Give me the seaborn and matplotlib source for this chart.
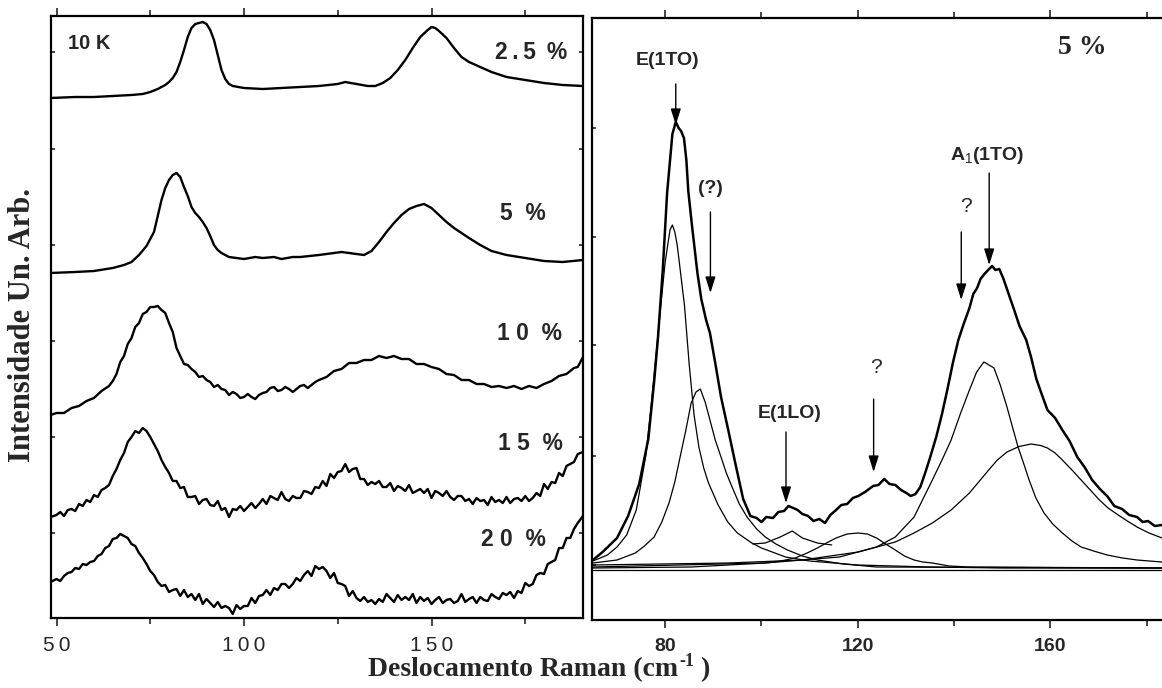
import matplotlib
matplotlib.use("Agg")
import matplotlib.pyplot as plt
import seaborn as sns
from matplotlib.ticker import FixedLocator

sns.set_style("ticks")
plt.rcParams['font.family'] = ['Liberation Sans', 'DejaVu Sans']
plt.rcParams['mathtext.fontset'] = 'custom'
plt.rcParams['mathtext.sf'] = 'Liberation Sans'
plt.rcParams['mathtext.rm'] = 'Liberation Sans'

# ---------------- left panel: spectra at 10 K (offset, arb. units) ----------------
wn_25 = [48.4, 55, 60, 65, 70, 73, 75, 77, 79, 80, 81, 82, 83, 84, 85, 86, 87, 88, 89, 90,
         91, 92, 93, 94, 95, 96, 97, 100, 105, 110, 115, 120, 125, 127, 130, 133, 135, 137, 139,
         141, 143, 145, 147, 149, 150, 151, 152, 154, 156, 158, 160, 163, 166, 170, 175, 180,
         185, 190.4]
int_25 = [52.0, 52.1, 52.1, 52.2, 52.3, 52.4, 52.6, 52.9, 53.3, 53.6, 54.0, 54.6, 55.6, 56.8,
          58.1, 59.0, 59.4, 59.5, 59.6, 59.4, 58.8, 57.8, 56.3, 54.8, 53.9, 53.4, 53.2, 53.0,
          52.9, 53.0, 53.1, 53.2, 53.4, 53.6, 53.4, 53.2, 53.2, 53.5, 54.0, 54.8, 55.8, 57.0,
          58.1, 58.8, 59.1, 59.0, 58.7, 58.0, 57.0, 56.1, 55.6, 55.1, 54.6, 54.1, 53.8, 53.5,
          53.3, 53.2]

wn_5 = [48.4, 55, 60, 65, 68, 70, 72, 74, 76, 78, 79, 80, 81, 82, 83, 84, 85, 86, 87, 88, 89,
        90, 91, 92, 93, 94, 96, 98, 100, 103, 105, 108, 110, 113, 115, 120, 124, 126, 128, 130,
        132, 134, 136, 138, 140, 142, 144, 146, 147, 148, 149, 150, 152, 154, 156, 158, 160,
        163, 166, 170, 175, 180, 185, 190.4]
int_5 = [34.5, 34.6, 34.7, 35.0, 35.3, 35.6, 36.3, 37.2, 38.6, 41.8, 43.0, 43.8, 44.3, 44.5,
         44.1, 43.1, 42.2, 41.1, 40.5, 40.1, 39.6, 39.0, 38.2, 37.3, 36.8, 36.5, 36.1, 36.0,
         35.9, 36.1, 36.0, 36.1, 35.9, 36.1, 36.1, 36.3, 36.5, 36.6, 36.5, 36.4, 36.3, 36.7,
         37.6, 38.6, 39.5, 40.3, 40.9, 41.2, 41.3, 41.4, 41.2, 41.0, 40.3, 39.6, 39.0, 38.5,
         38.0, 37.3, 36.7, 36.3, 36.0, 35.7, 35.6, 35.8]

wn_10 = [48.4, 50, 52, 54, 56, 58, 60, 62, 64, 65, 66, 67, 68, 69, 70, 71, 72, 73, 74, 75, 76,
         77, 78, 79, 80, 81, 82, 83, 84, 85, 86, 87, 88, 89, 90, 91, 92, 93, 94, 95, 96, 97, 98,
         99, 100, 101, 102, 103, 104, 105, 106, 107, 108, 109, 110, 111, 112, 113, 114, 115,
         116, 117, 118, 119, 120, 122, 124, 126, 128, 130, 132, 134, 136, 138, 140, 142, 144,
         146, 148, 150, 152, 154, 156, 158, 160, 162, 164, 166, 168, 170, 172, 174, 176, 178,
         180, 182, 184, 186, 188, 189, 190.4]
int_10 = [20.3, 20.5, 20.5, 21.0, 21.2, 21.7, 22.0, 22.7, 23.2, 23.7, 24.4, 25.6, 26.2, 27.4,
          28.0, 29.1, 29.5, 30.4, 30.6, 31.1, 31.1, 31.2, 30.8, 30.5, 29.5, 28.6, 27.0, 26.2,
          25.4, 25.3, 24.9, 24.6, 24.1, 24.2, 23.8, 23.6, 23.1, 23.3, 22.9, 22.8, 22.3, 22.6,
          22.4, 22.0, 22.1, 22.4, 22.1, 21.9, 22.3, 22.5, 22.6, 23.0, 23.1, 22.7, 22.8, 23.1,
          22.9, 22.6, 22.9, 23.2, 23.3, 23.0, 23.3, 23.6, 23.8, 24.1, 24.7, 24.9, 25.5, 25.5,
          25.8, 25.8, 26.2, 26.0, 26.2, 25.9, 25.9, 25.4, 25.4, 25.1, 24.9, 24.4, 24.3, 23.8,
          23.8, 23.4, 23.4, 23.1, 23.2, 23.0, 23.2, 22.9, 23.2, 23.0, 23.4, 23.7, 24.2, 24.4,
          25.0, 25.1, 26.1]

wn_15 = [48.4, 50, 51, 52, 53, 54, 55, 56, 57, 58, 59, 60, 61, 62, 63, 64, 65, 66, 67, 68, 69,
         70, 71, 72, 73, 74, 75, 76, 77, 78, 79, 80, 81, 82, 83, 84, 85, 86, 87, 88, 89, 90,
         91, 92, 93, 94, 95, 96, 97, 98, 99, 100, 101, 102, 103, 104, 105, 106, 107, 108, 109,
         110, 111, 112, 113, 114, 115, 116, 117, 118, 119, 120, 121, 122, 123, 124, 125, 126,
         127, 128, 129, 130, 131, 132, 133, 134, 135, 136, 137, 138, 139, 140, 141, 142, 143,
         144, 145, 146, 147, 148, 149, 150, 151, 152, 153, 154, 155, 156, 157, 158, 159, 160,
         161, 162, 163, 164, 165, 166, 167, 168, 169, 170, 171, 172, 173, 174, 175, 176, 177,
         178, 179, 180, 181, 182, 183, 184, 185, 186, 187, 188, 189, 190.4]
int_15 = [10.1, 10.3, 10.6, 10.2, 10.8, 10.9, 10.7, 11.4, 11.2, 11.8, 11.6, 12.3, 12.1, 12.8,
          13.0, 13.3, 14.2, 14.9, 15.8, 16.5, 17.6, 18.1, 18.7, 18.5, 19.0, 18.7, 18.1, 17.4,
          16.7, 15.8, 15.1, 14.5, 13.7, 13.7, 13.0, 13.1, 12.1, 12.1, 12.2, 11.4, 11.8, 11.9,
          11.3, 11.2, 11.7, 10.8, 11.0, 10.1, 10.9, 10.8, 11.2, 10.7, 11.1, 11.5, 11.0, 11.4,
          11.9, 11.4, 12.2, 12.0, 11.8, 12.6, 11.9, 11.7, 12.2, 12.0, 12.0, 12.7, 12.6, 12.4,
          13.1, 13.0, 13.7, 13.2, 14.4, 14.0, 14.6, 14.7, 15.4, 14.6, 14.9, 15.0, 13.9, 13.9,
          13.3, 13.6, 13.4, 13.7, 13.1, 13.1, 13.5, 12.7, 13.2, 13.0, 12.7, 13.3, 12.5, 12.7,
          12.9, 12.5, 12.9, 12.0, 12.7, 12.5, 12.2, 12.7, 12.1, 11.8, 12.2, 12.2, 11.7, 11.9,
          11.4, 12.0, 11.7, 11.8, 11.3, 12.1, 11.6, 11.8, 11.5, 12.1, 11.5, 11.9, 12.0, 11.7,
          12.2, 11.7, 12.0, 12.5, 12.2, 13.4, 12.9, 13.6, 13.5, 14.5, 14.2, 15.2, 15.4, 15.6,
          16.4, 16.6]

wn_20 = [48.4, 50, 51, 52, 53, 54, 55, 56, 57, 58, 59, 60, 61, 62, 63, 64, 65, 66, 67, 68, 69,
         70, 71, 72, 73, 74, 75, 76, 77, 78, 79, 80, 81, 82, 83, 84, 85, 86, 87, 88, 89, 90,
         91, 92, 93, 94, 95, 96, 97, 98, 99, 100, 101, 102, 103, 104, 105, 106, 107, 108, 109,
         110, 111, 112, 113, 114, 115, 116, 117, 118, 119, 120, 121, 122, 123, 124, 125, 126,
         127, 128, 129, 130, 131, 132, 133, 134, 135, 136, 137, 138, 139, 140, 141, 142, 143,
         144, 145, 146, 147, 148, 149, 150, 151, 152, 153, 154, 155, 156, 157, 158, 159, 160,
         161, 162, 163, 164, 165, 166, 167, 168, 169, 170, 171, 172, 173, 174, 175, 176, 177,
         178, 179, 180, 181, 182, 183, 184, 185, 186, 187, 188, 189, 190.4]
int_20 = [3.6, 3.9, 3.7, 4.2, 4.5, 4.6, 5.0, 4.9, 5.4, 5.3, 5.6, 5.7, 6.2, 6.4, 7.0, 7.2, 7.9,
          8.0, 8.4, 8.2, 8.0, 7.4, 7.2, 6.5, 6.0, 5.4, 4.7, 4.3, 3.6, 3.2, 3.3, 2.6, 2.8, 2.9,
          2.2, 2.8, 2.1, 2.4, 1.8, 2.4, 1.4, 1.9, 1.5, 1.1, 1.6, 1.0, 1.2, 1.0, 0.4, 1.3, 0.9,
          1.2, 1.2, 2.0, 1.5, 2.2, 2.3, 2.8, 2.3, 3.0, 2.8, 3.4, 3.4, 3.0, 3.4, 4.0, 3.7, 4.3,
          4.7, 4.2, 5.2, 4.9, 5.1, 4.7, 4.0, 4.5, 3.5, 3.4, 3.2, 2.2, 2.7, 2.0, 1.7, 2.1, 1.6,
          1.8, 1.4, 1.9, 1.6, 2.4, 2.0, 1.6, 2.3, 1.8, 2.1, 1.8, 2.4, 1.5, 2.1, 1.7, 2.0, 1.4,
          1.8, 2.1, 1.5, 1.8, 1.9, 1.5, 1.7, 2.4, 1.6, 1.9, 2.1, 1.5, 2.1, 1.8, 1.7, 2.4, 2.1,
          1.9, 2.5, 2.3, 2.6, 2.0, 2.7, 2.5, 3.5, 3.2, 3.4, 4.3, 4.5, 4.4, 5.4, 5.6, 5.8, 7.0,
          7.0, 8.0, 8.0, 8.9, 9.5, 10.2]

left_series = [(wn_25, int_25), (wn_5, int_5), (wn_10, int_10), (wn_15, int_15), (wn_20, int_20)]
left_labels = ["2\u2009.\u20095 \u2009%", "5  %", "1 0  %", "1 5  %", "2 0  %"]
left_label_pos = [(186.3, 56.6, 'right'), (174.5, 40.5, 'center'), (176.2, 28.5, 'center'),
                  (176.3, 17.5, 'center'), (171.9, 7.9, 'center')]

# ---------------- right panel: 5 % spectrum and fitted components ----------------
wn_tot = [65, 67, 70, 72.3, 74.6, 76.5, 77.7, 78.5, 79.5, 80.4, 81.5, 82.2, 82.8, 83.3, 83.9,
          84.4, 84.8, 85.6, 86.7, 87.5, 88.5, 89.3, 90.4, 91.6, 93.1, 94.6, 96.2, 97, 97.7, 99,
          100, 101, 102.4, 103.5, 104.7, 105.6, 106.6, 107.5, 108.5, 109.7, 110.8, 112, 113.2,
          114.3, 115.5, 116.6, 117.8, 119, 120.1, 121.5, 123.2, 124.3, 125.5, 126.6, 127.8, 129,
          130.1, 131, 132, 133, 134, 135, 136.3, 137.5, 138.6, 139.8, 140.9, 142, 143.2, 144,
          144.8, 145.5, 146.3, 147.1, 147.9, 148.6, 149.4, 150.2, 151, 151.7, 152.5, 153.6, 155,
          156, 157.1, 158.2, 159.4, 161, 162.5, 164, 165.6, 167.1, 168.7, 170.3, 171.8, 173.3,
          174.9, 176.4, 178, 179.2, 180.3, 181.7, 183.2]
int_tot = [6.0, 6.8, 8.2, 10.4, 13.6, 18.1, 23.8, 28.2, 35.0, 42.7, 48.6, 49.8, 49.2, 48.9,
           48.2, 46.0, 42.9, 39.3, 34.7, 32.1, 30.0, 28.7, 25.7, 22.3, 19.0, 15.6, 12.1, 11.2,
           10.4, 10.2, 9.8, 10.3, 10.2, 10.8, 10.9, 11.4, 11.2, 11.0, 10.6, 10.4, 9.9, 10.1, 9.7,
           10.5, 11.0, 11.5, 11.6, 12.2, 12.4, 12.8, 13.4, 13.5, 14.1, 13.6, 13.5, 13.0, 12.7,
           12.4, 12.6, 13.3, 14.7, 16.2, 18.3, 20.6, 23.0, 25.8, 28.0, 29.6, 31.2, 32.6, 33.2,
           34.1, 34.6, 35.0, 35.4, 35.0, 35.1, 34.2, 33.1, 32.1, 31.0, 29.4, 28.0, 26.3, 24.1,
           22.6, 21.0, 20.2, 19.0, 17.9, 16.3, 15.3, 14.0, 13.1, 12.4, 11.4, 11.1, 10.5, 10.3,
           9.8, 9.9, 9.4, 9.5]

wn_c1 = [65, 68, 70, 72, 74, 76, 77, 78, 79, 80, 81, 81.5, 82, 82.5, 83, 84, 85, 86, 87, 88,
         89, 91, 93, 95, 98, 100, 105, 110, 120, 135, 150, 183.2]
int_c1 = [5.9, 6.5, 7.3, 8.5, 11.0, 16.5, 21.0, 26.0, 31.0, 35.8, 39.0, 39.5, 38.8, 37.5, 35.5,
          31.5, 25.5, 20.5, 17.3, 15.2, 13.7, 11.5, 9.8, 8.7, 7.7, 7.2, 6.3, 5.9, 5.5, 5.3, 5.2,
          5.2]

wn_c2 = [65, 70, 73.8, 75.7, 77.7, 79.3, 80.8, 82, 83.1, 84.3, 85.4, 86.4, 87.3, 88.3, 89.3,
         90.4, 91.6, 92.7, 93.9, 95.4, 97, 99, 100.8, 103, 105.4, 108.5, 111.6, 117, 123.9,
         183.2]
int_c2 = [5.7, 6.0, 6.7, 7.4, 8.3, 9.8, 11.7, 13.8, 16.3, 19.0, 21.7, 22.8, 23.1, 21.8, 20.0,
          18.0, 16.3, 14.7, 13.3, 11.6, 10.3, 9.1, 8.3, 7.6, 7.0, 6.4, 6.0, 5.6, 5.3, 5.2]

wn_c3 = [98.2, 100.8, 103.9, 106.4, 108.5, 111.6, 114.6]
int_c3 = [7.6, 7.7, 8.3, 8.9, 8.2, 7.7, 7.5]

wn_c4 = [65, 85.4, 100.8, 104, 107, 109.5, 111.6, 113.5, 115.5, 117.8, 120, 122, 123.9, 125.8,
         127.8, 129.7, 131.7, 133.5, 135.5, 139, 143.2, 183.2]
int_c4 = [5.2, 5.3, 5.7, 5.9, 6.2, 6.7, 7.2, 7.7, 8.2, 8.6, 8.7, 8.6, 8.2, 7.6, 7.0, 6.4, 6.0,
          5.8, 5.7, 5.4, 5.3, 5.2]

wn_c5 = [65, 100.8, 116.2, 123.9, 127.8, 131.7, 135.5, 137.5, 139.4, 141.3, 143.2, 144.7, 146.2,
         148.3, 149.6, 151, 152.2, 153.3, 154.5, 155.6, 157, 158.7, 160.5, 162.5, 164.5, 166.4,
         169, 171.8, 175, 178, 183.2]
int_c5 = [5.3, 5.7, 6.3, 7.3, 8.3, 10.3, 14.0, 16.0, 18.0, 20.6, 23.0, 24.8, 25.8, 25.2, 23.5,
          21.3, 19.2, 17.3, 15.6, 14.0, 12.2, 10.7, 9.6, 8.7, 7.9, 7.3, 6.9, 6.5, 6.2, 6.0, 5.8]

wn_c6 = [65, 93.1, 108.5, 120.1, 127.8, 131.7, 135.5, 139.4, 143.2, 147.2, 149, 151, 153.5, 156,
         158, 159.4, 161, 162.5, 164.5, 166.4, 168.3, 170.2, 172, 174.1, 176, 178, 180.5, 183.2]
int_c6 = [5.5, 5.7, 6.0, 6.8, 7.8, 8.7, 9.7, 11.0, 12.7, 15.0, 16.0, 16.8, 17.35, 17.6, 17.45,
          17.2, 16.7, 16.0, 15.0, 14.0, 13.0, 12.0, 11.2, 10.5, 9.9, 9.3, 8.7, 8.2]

wn_base = [65, 183.2]
int_base = [5.0, 5.0]

components = [(wn_c1, int_c1), (wn_c2, int_c2), (wn_c3, int_c3), (wn_c4, int_c4),
              (wn_c5, int_c5), (wn_c6, int_c6), (wn_base, int_base)]

# annotations: text, text position, arrow x, arrow top, arrow tip, bold
peak_labels = ["E(1TO)", "(?)", "A$_{\\mathsf{1}}$(1TO)", "?", "E(1LO)", "?"]
peak_text_xy = [(80.5, 56.0), (89.3, 43.2), (146.8, 46.5), (142.4, 41.4), (105.9, 20.7), (123.7, 25.3)]
arrow_x = [82.2, 89.4, 147.3, 141.5, 105.1, 123.3]
arrow_top = [53.6, 40.8, 44.7, 38.8, 18.8, 22.1]
arrow_tip = [49.5, 32.7, 35.5, 32.0, 11.7, 14.8]
label_bold = [True, True, True, False, True, False]

W, H = 1162, 688
fig = plt.figure(figsize=(W / 100, H / 100), dpi=100)
axL = fig.add_axes([50.5 / W, 1 - 618 / H, (583 - 50.5) / W, (618 - 16) / H])
axR = fig.add_axes([592 / W, 1 - 620 / H, (W - 592) / W, (620 - 18) / H])

# left panel
for wn, inten in left_series:
    sns.lineplot(x=wn, y=inten, ax=axL, color='black', lw=1.7, estimator=None, sort=False)
for lab, (x, y, ha) in zip(left_labels, left_label_pos):
    axL.text(x, y, lab, ha=ha, va='center', fontsize=16.5, fontweight='bold')
axL.text(53.1, 57.5, "10 K", ha='left', va='center', fontsize=14.5, fontweight='bold')

axL.set_xlim(48.4, 190.4)
axL.set_ylim(0, 60.2)
axL.xaxis.set_major_locator(FixedLocator([50, 100, 150]))
axL.xaxis.set_minor_locator(FixedLocator([75, 125, 175]))
axL.set_xticklabels(["5\u20090", "1\u20090\u20090", "1\u20095\u20090"], fontsize=15)
axL.yaxis.set_major_locator(FixedLocator([8.5, 18.1, 27.7, 37.3, 46.9, 56.6]))
axL.set_yticklabels([])
axL.tick_params(axis='x', which='major', direction='out', length=6, width=1.2, top=True, pad=7)
axL.tick_params(axis='x', which='minor', direction='out', length=4, width=1.2, top=True)
axL.tick_params(axis='y', which='major', direction='in', length=3, width=1.2, right=True)

# right panel
for wn, inten in components:
    sns.lineplot(x=wn, y=inten, ax=axR, color='black', lw=0.9, estimator=None, sort=False)
sns.lineplot(x=wn_tot, y=int_tot, ax=axR, color='black', lw=1.8, estimator=None, sort=False)

for lab, (tx, ty), xa, top, tip, bold in zip(peak_labels, peak_text_xy, arrow_x, arrow_top,
                                             arrow_tip, label_bold):
    axR.text(tx, ty, lab, ha='center', va='center',
             fontsize=14 if bold else 15, fontweight='bold' if bold else 'normal')
    axR.annotate('', xy=(xa, tip), xytext=(xa, top),
                 arrowprops=dict(arrowstyle='-|>,head_length=0.7,head_width=0.22', color='black',
                                 lw=1.0, shrinkA=0, shrinkB=0, mutation_scale=14))
axR.text(166.7, 57.3, "5 %", ha='center', va='center', fontsize=20, fontweight='bold',
         family='Liberation Serif')

axR.set_xlim(64.8, 183.2)
axR.set_ylim(0, 60.2)
axR.xaxis.set_major_locator(FixedLocator([80, 120, 160]))
axR.xaxis.set_minor_locator(FixedLocator([100, 140, 180]))
axR.set_xticklabels(["80", "120", "160"], fontsize=14, fontweight='bold')
axR.yaxis.set_major_locator(FixedLocator([5.5, 16.4, 27.5, 38.3, 49.2]))
axR.set_yticklabels([])
axR.tick_params(axis='x', which='major', direction='out', length=6, width=1.2, top=True, pad=7)
axR.tick_params(axis='x', which='minor', direction='out', length=4, width=1.2, top=True)
axR.tick_params(axis='y', which='major', direction='in', length=3, width=1.2)
axR.spines['right'].set_visible(False)

for ax in (axL, axR):
    ax.set_xlabel('')
    ax.set_ylabel('')
    for side in ('left', 'right', 'top', 'bottom'):
        ax.spines[side].set_linewidth(1.6)
        ax.spines[side].set_color('black')

fig.text(23 / W, 1 - 325 / H, "Intensidade Un. Arb.", rotation=90, ha='center', va='center',
         fontsize=22, fontweight='bold', family='Liberation Serif')

# x label with a short hyphen in the superscript, built from three pieces
renderer = fig.canvas.get_renderer()
serif_bold = dict(fontweight='bold', family='Liberation Serif', va='baseline')
y_base = 1 - 676 / H
t1 = fig.text(368 / W, y_base, "Deslocamento Raman (cm", fontsize=20, ha='left', **serif_bold)
bb1 = t1.get_window_extent(renderer)
t2 = fig.text((bb1.x1 + 1) / W, y_base + 10 / H, "-1", fontsize=13, ha='left', **serif_bold)
bb2 = t2.get_window_extent(renderer)
fig.text(bb2.x1 / W, y_base, " )", fontsize=20, ha='left', **serif_bold)

fig.savefig("out.png", dpi=100)
